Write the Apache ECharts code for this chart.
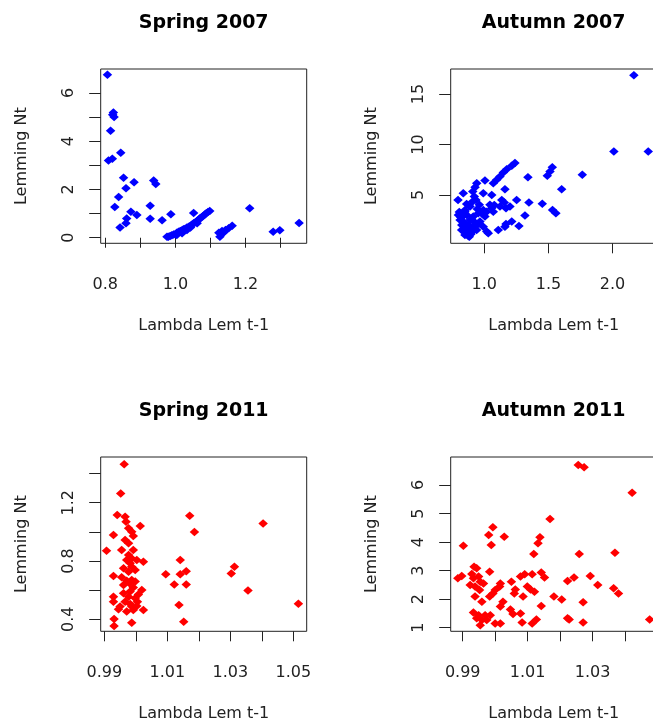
<!DOCTYPE html>
<html>
<head>
<meta charset="utf-8">
<script src="https://cdn.jsdelivr.net/npm/echarts@6/dist/echarts.min.js"></script>
<style>
  html, body { margin: 0; padding: 0; background: #fff; }
  #main { width: 653px; height: 724px; }
</style>
</head>
<body>
<div id="main"></div>
<script>
// Spring 2007
var spring07X = [0.806, 0.823, 0.821, 0.825, 0.815, 0.809, 0.820, 0.844, 0.852, 0.859, 0.882, 0.838, 0.827,
  0.861, 0.859, 0.842, 0.873, 0.890, 0.928, 0.928, 0.938, 0.944, 0.962, 0.987, 1.052,
  0.976, 0.980, 0.985, 0.990, 0.995, 1.000, 1.004, 1.004, 1.009, 1.014, 1.019, 1.019, 1.023, 1.028, 1.033, 1.033,
  1.038, 1.043, 1.043, 1.047, 1.052, 1.057, 1.062, 1.062, 1.066, 1.071, 1.075, 1.079, 1.084, 1.088, 1.093, 1.098,
  1.127, 1.124, 1.133, 1.138, 1.143, 1.152, 1.162, 1.212, 1.279, 1.298, 1.353];
var spring07Y = [6.75, 5.19, 5.10, 5.00, 4.43, 3.20, 3.27, 3.52, 2.49, 2.05, 2.30, 1.69, 1.27,
  0.80, 0.60, 0.42, 1.08, 0.94, 1.33, 0.79, 2.37, 2.23, 0.72, 0.97, 1.03,
  0.04, 0.04, 0.07, 0.10, 0.13, 0.15, 0.21, 0.11, 0.25, 0.28, 0.31, 0.19, 0.35, 0.37, 0.42, 0.32,
  0.46, 0.50, 0.42, 0.54, 0.60, 0.64, 0.69, 0.60, 0.75, 0.82, 0.85, 0.90, 0.96, 1.01, 1.07, 1.11,
  0.04, 0.21, 0.28, 0.22, 0.32, 0.39, 0.50, 1.22, 0.25, 0.31, 0.61];

// Autumn 2007
var autumn07X = [2.166, 2.010, 2.278, 1.764, 1.603, 1.530, 1.512, 1.491, 1.340, 1.348, 1.452, 1.532, 1.558, 1.317, 1.270, 1.252,
  1.239, 1.214, 1.175, 1.148, 1.122, 1.097, 1.070, 1.005, 0.941, 0.928, 0.910, 0.922, 0.836, 0.795,
  1.122, 1.156, 1.044, 1.058, 0.992, 1.136, 1.161, 1.070, 0.992, 0.961, 0.889, 0.850, 0.798, 0.811, 0.824, 0.850,
  0.876, 0.902, 0.928, 0.966, 1.005, 0.992, 1.019, 1.109, 1.161, 1.214, 0.863, 0.889, 0.914, 0.953,
  0.862, 0.883, 0.940, 0.888, 0.919, 0.979, 0.961, 1.031, 0.831, 0.849, 0.875, 0.823, 0.849, 0.909,
  1.078, 1.057, 1.018, 0.909, 0.862, 0.935, 0.805, 0.815, 0.840, 0.860, 0.895, 0.870, 0.900, 0.930, 0.945,
  1.200, 1.169, 1.169];
var autumn07Y = [16.85, 9.30, 9.30, 6.99, 5.56, 7.75, 7.32, 6.89, 6.75, 4.24, 4.11, 3.51, 3.18, 2.95, 1.92, 4.50,
  8.15, 7.88, 7.55, 7.22, 6.82, 6.49, 6.16, 6.42, 6.16, 5.76, 5.33, 4.83, 5.17, 4.50,
  3.84, 4.24, 4.01, 5.00, 5.17, 4.50, 5.57, 3.34, 3.51, 4.01, 3.84, 3.51, 3.01, 2.52, 2.02, 1.52,
  0.93, 1.36, 1.85, 2.35, 2.85, 1.85, 1.36, 1.52, 1.85, 2.35, 3.01, 2.52, 2.85, 3.18,
  1.19, 0.86, 1.52, 1.85, 2.35, 3.18, 2.19, 1.19, 2.85, 3.34, 2.02, 1.52, 1.02, 1.36,
  4.00, 3.68, 3.34, 4.34, 4.10, 4.50, 3.30, 2.80, 2.30, 1.70, 1.10, 1.40, 2.60, 2.10, 3.60,
  3.84, 3.68, 2.12];

// Spring 2011
var spring11X = [0.9963, 0.9952, 0.9941, 0.9966, 0.9969, 1.0014, 0.9977, 0.9987, 0.9929, 0.9992, 0.9966, 0.9977,
  0.9907, 0.9955, 0.9977, 0.9987, 0.9971, 1.0003, 1.0024, 0.9987, 0.9998, 0.9961, 0.9929, 0.9955, 0.9971, 0.9987,
  0.9961, 0.9992, 0.9982, 1.0019, 1.0008, 0.9998, 0.9977, 0.9929, 0.9929, 0.9950, 0.9966, 0.9982, 1.0003, 1.0024,
  0.9992, 0.9971, 0.9945, 0.9987, 0.9931, 0.9931, 0.9982, 0.9992, 0.9980, 0.9987, 1.0005, 0.9961, 0.9998, 0.9977,
  1.0171, 1.0186, 1.0095, 1.0141, 1.0141, 1.0122, 1.0160, 1.0160, 1.0137, 1.0152, 1.0313, 1.0303, 1.0356, 1.0404, 1.0516];
var spring11Y = [1.463, 1.264, 1.116, 1.104, 1.070, 1.040, 1.024, 1.001, 0.978, 0.972, 0.944, 0.921,
  0.871, 0.875, 0.841, 0.818, 0.807, 0.807, 0.795, 0.761, 0.738, 0.750, 0.697, 0.688, 0.665, 0.670,
  0.635, 0.619, 0.590, 0.601, 0.571, 0.544, 0.555, 0.555, 0.521, 0.487, 0.521, 0.505, 0.491, 0.464,
  0.464, 0.453, 0.469, 0.377, 0.402, 0.354, 0.784, 0.875, 0.647, 0.487, 0.521, 0.578, 0.659, 0.727,
  1.111, 0.999, 0.709, 0.807, 0.709, 0.638, 0.729, 0.638, 0.498, 0.384, 0.761, 0.715, 0.597, 1.058, 0.507];

// Autumn 2011
var autumn11X = [1.0256, 1.0274, 1.0422, 1.0169, 1.0138, 1.0132, 1.0119, 1.0259, 1.0369, 0.9993, 0.9980, 1.0028,
  0.9988, 0.9902, 0.9885, 0.9897, 0.9983, 0.9935, 0.9943, 0.9928, 0.9933, 0.9949, 0.9923, 0.9938, 0.9954, 0.9964,
  0.9952, 0.9938, 0.9959, 0.9933, 0.9949, 0.9959, 0.9954, 0.9969, 0.9985, 0.9974, 0.9943, 0.9993, 1.0000, 0.9983,
  1.0016, 1.0014, 1.0024, 1.0016, 1.0000, 1.0016, 1.0050, 1.0062, 1.0059, 1.0047, 1.0055, 1.0078, 1.0083, 1.0078,
  1.0091, 1.0086, 1.0099, 1.0109, 1.0121, 1.0114, 1.0142, 1.0152, 1.0142, 1.0114, 1.0127, 1.0181, 1.0205, 1.0223,
  1.0228, 1.0223, 1.0243, 1.0271, 1.0271, 1.0293, 1.0316, 1.0365, 1.0380, 1.0476];
var autumn11Y = [6.70, 6.62, 5.73, 4.81, 4.17, 3.96, 3.58, 3.58, 3.63, 4.52, 4.25, 4.19,
  3.90, 3.87, 2.73, 2.81, 2.96, 3.14, 3.08, 2.88, 2.73, 2.79, 2.50, 2.44, 2.61, 2.55,
  2.32, 2.09, 1.91, 1.53, 1.44, 1.27, 1.09, 1.44, 1.44, 1.27, 1.33, 2.20, 2.32, 2.09,
  2.55, 2.44, 1.91, 1.74, 1.15, 1.15, 2.61, 2.34, 2.20, 1.64, 1.48, 1.50, 1.18, 2.79,
  2.87, 2.09, 2.44, 2.34, 2.26, 2.87, 2.93, 2.76, 1.76, 1.15, 1.29, 2.09, 1.99, 1.33,
  1.29, 2.64, 2.76, 1.89, 1.18, 2.81, 2.50, 2.38, 2.20, 1.29];

// tick marks and the ticks that carry a label
var spring07XTicks = [0.8, 0.9, 1.0, 1.1, 1.2, 1.3];
var spring07XLabels = [0.8, 1.0, 1.2];
var spring07YTicks = [0, 1, 2, 3, 4, 5, 6];
var spring07YLabels = [0, 2, 4, 6];
var autumn07XTicks = [1.0, 1.5, 2.0];
var autumn07YTicks = [5, 10, 15];
var spring11XTicks = [0.99, 1.00, 1.01, 1.02, 1.03, 1.04, 1.05];
var spring11XLabels = [0.99, 1.01, 1.03, 1.05];
var spring11YTicks = [0.4, 0.6, 0.8, 1.0, 1.2, 1.4];
var spring11YLabels = [0.4, 0.8, 1.2];
var autumn11XTicks = [0.99, 1.00, 1.01, 1.02, 1.03, 1.04];
var autumn11XLabels = [0.99, 1.01, 1.03];
var autumn11YTicks = [1, 2, 3, 4, 5, 6];

function zip(xs, ys) {
  return xs.map(function (x, i) { return [x, ys[i]]; });
}

var FONT = 'DejaVu Sans';
var INK = '#222222';

// right hand panels run past the edge of the picture, as in the original
var panels = [
  { title: 'Spring 2007', color: '#0000FF', data: zip(spring07X, spring07Y),
    left: 100.7, top: 69, width: 206, xMin: 0.7868, xMax: 1.3747, yMin: -0.23, yMax: 6.99,
    xTicks: spring07XTicks, xLabels: spring07XLabels, yTicks: spring07YTicks, yLabels: spring07YLabels, xDec: 1, yDec: 0 },
  { title: 'Autumn 2007', color: '#0000FF', data: zip(autumn07X, autumn07Y),
    left: 450.7, top: 69, width: 206, xMin: 0.738, xMax: 2.344, yMin: 0.20, yMax: 17.48,
    xTicks: autumn07XTicks, xLabels: autumn07XTicks, yTicks: autumn07YTicks, yLabels: autumn07YTicks, xDec: 1, yDec: 0 },
  { title: 'Spring 2011', color: '#FF0000', data: zip(spring11X, spring11Y),
    left: 100.7, top: 457, width: 206, xMin: 0.98885, xMax: 1.05424, yMin: 0.3177, yMax: 1.5136,
    xTicks: spring11XTicks, xLabels: spring11XLabels, yTicks: spring11YTicks, yLabels: spring11YLabels, xDec: 2, yDec: 1 },
  { title: 'Autumn 2011', color: '#FF0000', data: zip(autumn11X, autumn11Y),
    left: 450.7, top: 457, width: 206, xMin: 0.9863, xMax: 1.04977, yMin: 0.874, yMax: 6.981,
    xTicks: autumn11XTicks, xLabels: autumn11XLabels, yTicks: autumn11YTicks, yLabels: autumn11YTicks, xDec: 2, yDec: 0 }
];

var option = {
  backgroundColor: '#ffffff',
  animation: false,
  title: [],
  grid: [],
  xAxis: [],
  yAxis: [],
  series: []
};

panels.forEach(function (p, i) {
  option.title.push({
    text: p.title,
    left: p.left + 103,
    top: p.top - 55,
    textAlign: 'center',
    padding: 0,
    textStyle: { fontFamily: FONT, fontWeight: 'bold', fontSize: 19, color: '#000' }
  });
  option.grid.push({
    left: p.left, top: p.top, width: p.width, height: 174.3,
    outerBoundsMode: 'none', // keep the box where it is, do not squeeze it to fit the labels
    show: true, borderColor: INK, borderWidth: 1, backgroundColor: 'transparent'
  });
  option.xAxis.push({
    type: 'value', gridIndex: i, min: p.xMin, max: p.xMax,
    name: 'Lambda Lem t-1', nameLocation: 'middle', nameGap: 75,
    nameTextStyle: { fontFamily: FONT, fontSize: 16, color: INK },
    axisLine: { show: false },
    axisTick: { show: true, length: 10, customValues: p.xTicks, lineStyle: { color: INK, width: 1 } },
    axisLabel: {
      customValues: p.xLabels, margin: 34, fontFamily: FONT, fontSize: 16, color: INK,
      formatter: function (v) { return Number(v).toFixed(p.xDec); }
    },
    splitLine: { show: false }
  });
  option.yAxis.push({
    type: 'value', gridIndex: i, min: p.yMin, max: p.yMax,
    name: 'Lemming Nt', nameLocation: 'middle', nameGap: 71,
    nameTextStyle: { fontFamily: FONT, fontSize: 16, color: INK },
    axisLine: { show: false },
    axisTick: { show: true, length: 11.5, customValues: p.yTicks, lineStyle: { color: INK, width: 1 } },
    axisLabel: {
      customValues: p.yLabels, rotate: 90, margin: 24, fontFamily: FONT, fontSize: 16, color: INK,
      formatter: function (v) { return Number(v).toFixed(p.yDec); }
    },
    splitLine: { show: false }
  });
  option.series.push({
    type: 'scatter', xAxisIndex: i, yAxisIndex: i,
    symbol: 'diamond', symbolSize: [9.5, 8.5],
    itemStyle: { color: p.color, opacity: 1 },
    data: p.data
  });
});

var chart = echarts.init(document.getElementById('main'), null, { renderer: 'canvas' });
chart.setOption(option);
</script>
</body>
</html>
